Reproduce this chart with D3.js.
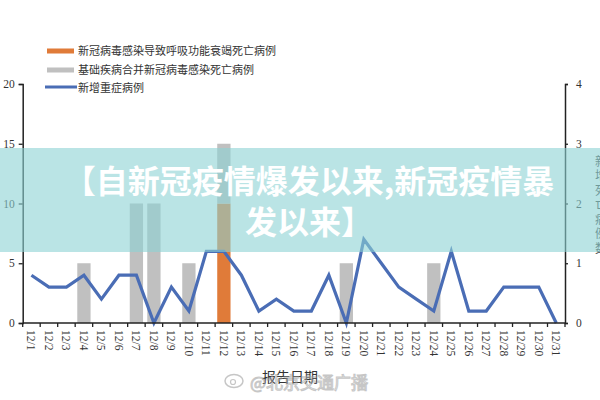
<!DOCTYPE html>
<html>
<head>
<meta charset="utf-8">
<script src="https://cdn.jsdelivr.net/npm/d3@7/dist/d3.min.js"></script>
<style>
html,body{margin:0;padding:0;background:#fff;}
svg{display:block;}
</style>
</head>
<body>
<svg id="chart" width="600" height="400"></svg>
<script>
const categories = ["12/1","12/2","12/3","12/4","12/5","12/6","12/7","12/8","12/9","12/10",
  "12/11","12/12","12/13","12/14","12/15","12/16","12/17","12/18","12/19","12/20",
  "12/21","12/22","12/23","12/24","12/25","12/26","12/27","12/28","12/29","12/30","12/31"];
const respiratoryDeaths = [0,0,0,0,0,0,0,0,0,0,0,2,0,0,0,0,0,0,0,0,0,0,0,0,0,0,0,0,0,0,0];
const comorbidDeaths    = [0,0,0,1,0,0,2,2,0,1,0,1,0,0,0,0,0,0,1,0,0,0,0,1,0,0,0,0,0,0,0];
const newSevere         = [4,3,3,4,2,4,4,0,3,1,6,6,4,1,2,1,1,4,0,7,5,3,2,1,6,1,1,3,3,3,0];
const leftTicks = [0,5,10,15,20];
const rightTicks = [0,1,2,3,4];
const legendLabels = ["新冠病毒感染导致呼吸功能衰竭死亡病例","基础疾病合并新冠病毒感染死亡病例","新增重症病例"];
const xAxisTitle = "报告日期";
const rightAxisTitle = "新增死亡病例数";
const bannerLines = ["【自新冠疫情爆发以来,新冠疫情暴","发以来】"];
const watermark = "@北京交通广播";

const C_ORANGE = "#e07b39", C_GRAY = "#c0c0c0", C_BLUE = "#4a6db5";
const svg = d3.select("#chart");
const L = 22.7, R = 565, T = 84, B = 323;
const serif = "'Liberation Serif','DejaVu Serif',serif";
const cjk = "'Noto Sans CJK SC','Noto Sans',sans-serif";

const x = d3.scaleBand().domain(categories).range([L, R]).paddingInner(0.24).paddingOuter(0.12);
const xPt = d => x(d) + x.bandwidth()/2;
const yL = d3.scaleLinear().domain([0,20]).range([B, T]);
const yR = d3.scaleLinear().domain([0,4]).range([B, T]);

// bars (right axis), stacked
const stackData = categories.map((c,i)=>({c, resp: respiratoryDeaths[i], com: comorbidDeaths[i]}));
svg.append("g").selectAll("rect").data(stackData.filter(d=>d.resp>0)).join("rect")
  .attr("x", d=>x(d.c)).attr("width", x.bandwidth())
  .attr("y", d=>yR(d.resp)).attr("height", d=>yR(0)-yR(d.resp)).attr("fill", C_ORANGE);
svg.append("g").selectAll("rect").data(stackData.filter(d=>d.com>0)).join("rect")
  .attr("x", d=>x(d.c)).attr("width", x.bandwidth())
  .attr("y", d=>yR(d.resp+d.com)).attr("height", d=>yR(d.resp)-yR(d.resp+d.com)).attr("fill", C_GRAY);

// line (left axis)
const line = d3.line().x((d,i)=>xPt(categories[i])).y(d=>yL(d));
svg.append("path").datum(newSevere).attr("d", line)
  .attr("fill","none").attr("stroke", C_BLUE).attr("stroke-width",3.2).attr("stroke-linejoin","miter");

// axes
const fmt = d3.format("d");
const gL = svg.append("g").attr("transform",`translate(${L},0)`)
  .call(d3.axisLeft(yL).tickValues(leftTicks).tickFormat(fmt).tickSize(4).tickPadding(4));
const gR = svg.append("g").attr("transform",`translate(${R},0)`)
  .call(d3.axisRight(yR).tickValues(rightTicks).tickFormat(fmt).tickSize(3).tickPadding(8));
const xBoundary = d3.scaleLinear().domain([0, categories.length]).range([L, R]);
const gX = svg.append("g").attr("transform",`translate(0,${B})`)
  .call(d3.axisBottom(x).tickSize(0).tickPadding(0));
[gL,gR,gX].forEach(g=>{
  g.select(".domain").attr("stroke","#222").attr("stroke-width",1.5);
  g.selectAll(".tick line").attr("stroke","#222").attr("stroke-width",1.3);
  g.selectAll("text").attr("font-family", serif).attr("font-size", 11.5).attr("fill","#333");
});
gX.select(".domain").attr("d", `M${L},0H${R}`);
gX.selectAll(".tick text")
  .attr("transform","translate(0,7) rotate(90)")
  .attr("text-anchor","start").attr("dy","0.35em").attr("x",0).attr("y",0);
// boundary ticks on x axis
gX.append("g").selectAll("line").data(d3.range(categories.length+1)).join("line")
  .attr("x1", d=>xBoundary(d)).attr("x2", d=>xBoundary(d)).attr("y1",0).attr("y2",4)
  .attr("stroke","#222").attr("stroke-width",1.3);

// x axis title
svg.append("text").attr("x",290).attr("y",376).attr("text-anchor","middle").attr("dominant-baseline","central")
  .attr("font-family",cjk).attr("font-size",14).attr("fill","#333").text(xAxisTitle);

// right axis title (vertical, mostly cut off at the right edge)
svg.append("text").attr("x",601).attr("y",155)
  .style("writing-mode","vertical-rl").style("letter-spacing","2.5px")
  .attr("font-family",cjk).attr("font-size",12).attr("fill","#444").text(rightAxisTitle);

// legend
const lg = svg.append("g");
lg.append("rect").attr("x",47).attr("y",48.5).attr("width",27).attr("height",5).attr("fill",C_ORANGE);
lg.append("rect").attr("x",47).attr("y",67.5).attr("width",27).attr("height",5).attr("fill",C_GRAY);
lg.append("line").attr("x1",45).attr("x2",77).attr("y1",87).attr("y2",87).attr("stroke",C_BLUE).attr("stroke-width",3);
legendLabels.forEach((t,i)=>{
  lg.append("text").attr("x",78).attr("y",[50,69,87][i]).attr("dominant-baseline","central")
    .attr("font-family",cjk).attr("font-size",11).attr("fill","#333").text(t);
});

// watermark
const wm = svg.append("g").attr("opacity",0.55);
wm.append("ellipse").attr("cx",234).attr("cy",381).attr("rx",9).attr("ry",6.5)
  .attr("fill","none").attr("stroke","#999").attr("stroke-width",1.5);
wm.append("circle").attr("cx",233).attr("cy",382).attr("r",2.5).attr("fill","none").attr("stroke","#999").attr("stroke-width",1.2);
wm.append("text").attr("x",250).attr("y",381).attr("dominant-baseline","central")
  .attr("font-family",cjk).attr("font-size",17).attr("fill","#fff").attr("stroke","#999").attr("stroke-width",1)
  .text(watermark);

// banner overlay
svg.append("rect").attr("x",0).attr("y",148).attr("width",600).attr("height",104)
  .attr("fill","rgb(140,210,212)").attr("opacity",0.6);
const bt = svg.append("g").attr("font-family",cjk).attr("font-weight","bold").attr("font-size",32)
  .attr("fill","#fff").attr("text-anchor","middle");
bt.append("text").attr("x",309).attr("y",179).attr("dominant-baseline","central").text(bannerLines[0]);
bt.append("text").attr("x",309).attr("y",220).attr("dominant-baseline","central").text(bannerLines[1]);
</script>
</body>
</html>
